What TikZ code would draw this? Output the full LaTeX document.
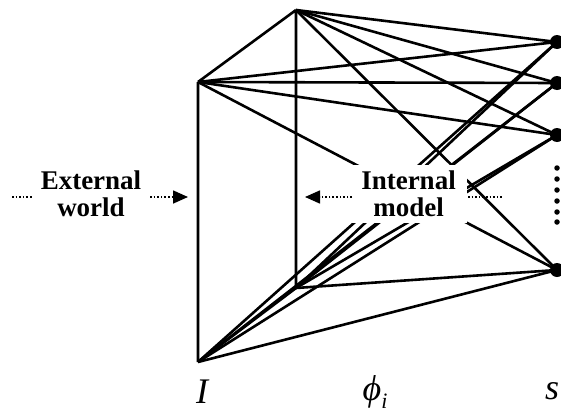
\documentclass[tikz,border=0pt]{standalone}
\usepackage{fontspec}
\setmainfont{Liberation Serif}
\usetikzlibrary{arrows.meta}
\begin{document}
\begin{tikzpicture}[x=1pt,y=-1pt,
  edge/.style={line width=2.6pt},
  snode/.style={circle,fill=black,inner sep=0pt,minimum size=14pt},
  vdot/.style={circle,fill=black,inner sep=0pt,minimum size=5.5pt},
  lbl/.style={font=\fontsize{27}{27}\selectfont\bfseries,align=center,inner sep=0pt},
  var/.style={font=\fontsize{36}{40}\selectfont\itshape,inner sep=2pt},
  flow/.style={line width=1.6pt,dotted},
  tipd/.style={-{Triangle[length=15pt,width=13pt]}}]
\useasboundingbox (0,0) rectangle (561,407);
\coordinate (T) at (296,10);
\coordinate (L) at (198,82);
\coordinate (B) at (198,362);
\coordinate (P) at (296,288);
\node[snode] (S1) at (557,42) {};
\node[snode] (S2) at (557,83) {};
\node[snode] (S3) at (557,135) {};
\node[snode] (S4) at (557,270) {};
\foreach \a in {L,T,B,P}
  \foreach \s in {S1,S2,S3,S4}
    \draw[edge] (\a) -- (\s.center);
\draw[edge,line join=miter] (L) -- (T) (L) -- (B) (T) -- (P) (B) -- (P);
\foreach \k/\yy in {1/168,2/179,3/190,4/201,5/212,6/222}
  \node[vdot] (d\k) at (557,\yy) {};
\node[lbl,fill=white,minimum width=117pt,minimum height=58pt] (im) at (408.5,194) {Internal\\model};
\node[lbl] (ew) at (91,194) {External\\world};
\coordinate (e1) at (12,197);
\coordinate (e2) at (33,197);
\coordinate (e3) at (150,197);
\coordinate (e4) at (188,197);
\coordinate (i1) at (352,197);
\coordinate (i2) at (305,197);
\coordinate (i3) at (468,197);
\coordinate (i4) at (502,197);
\draw[flow] (e1) -- (e2);
\draw[flow,tipd] (e3) -- (e4);
\draw[flow,tipd] (i1) -- (i2);
\draw[flow] (i3) -- (i4);
\node[var] (lI) at (202,392) {I};
\node[var] (lphi) at (375,392) {ϕ\raisebox{-0.22em}{\fontsize{22}{22}\selectfont i}};
\node[var] (ls) at (552,391) {s};
\end{tikzpicture}
\end{document}
